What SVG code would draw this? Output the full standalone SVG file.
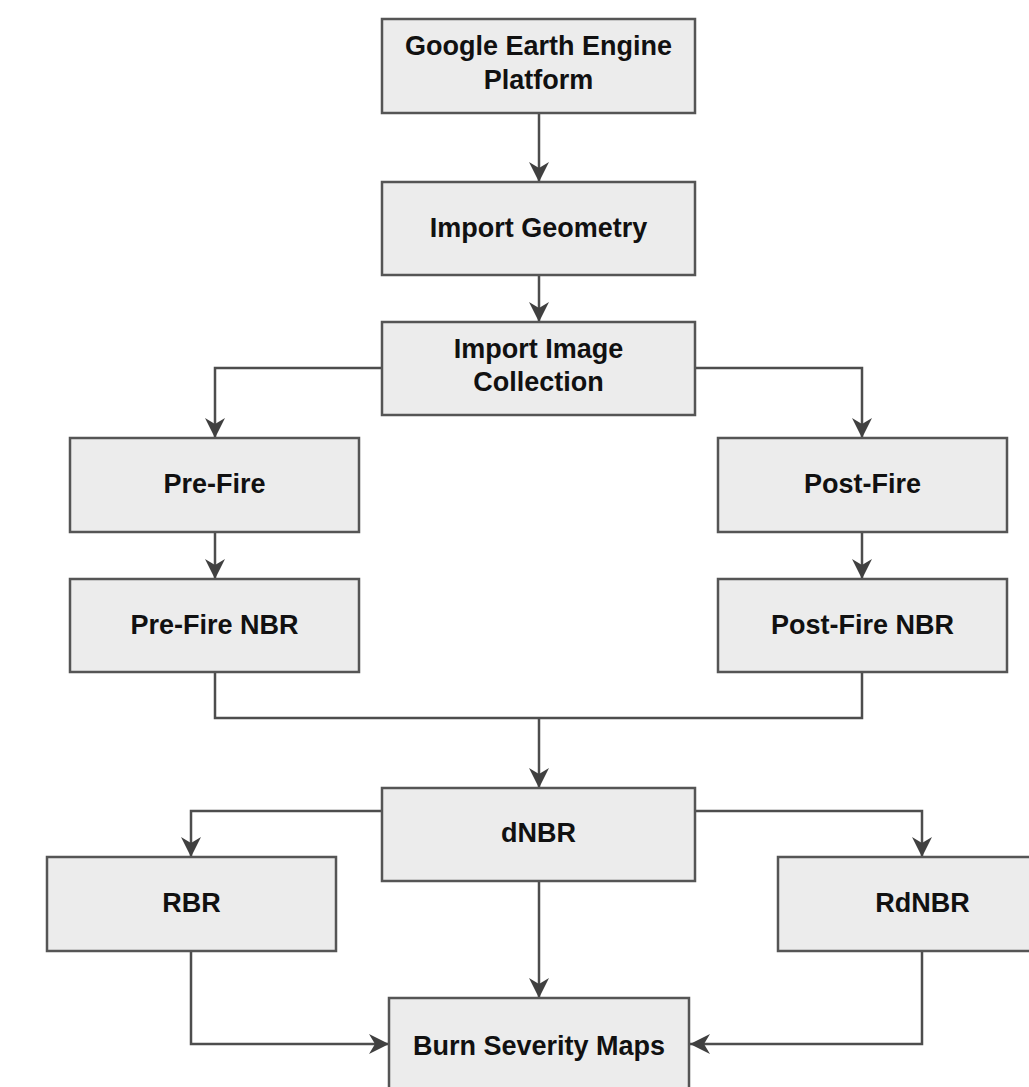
<svg xmlns="http://www.w3.org/2000/svg" width="1029" height="1087" viewBox="0 0 1029 1087">
<style>
.box{fill:#ececec;stroke:#555;stroke-width:2.5}
.t{font-family:"Liberation Sans",Arial,sans-serif;font-weight:bold;font-size:27px;fill:#111;text-anchor:middle}
.c{fill:none;stroke:#4d4d4d;stroke-width:2.5}
.a{marker-end:url(#ah)}
</style>
<defs>
<marker id="ah" markerUnits="userSpaceOnUse" markerWidth="22" markerHeight="22" refX="20" refY="10" orient="auto">
<path d="M0,0 L20,10 L0,20 L6,10 Z" fill="#404040"/>
</marker>
</defs>
<rect width="1029" height="1087" fill="#fff"/>
<g id="connectors">
<path class="c a" d="M539,113 V182"/>
<path class="c a" d="M539,275 V322"/>
<path class="c a" d="M382,368 H215 V438"/>
<path class="c a" d="M695,368 H862 V438"/>
<path class="c a" d="M215,532 V579"/>
<path class="c a" d="M862,532 V579"/>
<path class="c" d="M215,672 V718 H862 V672"/>
<path class="c a" d="M539,718 V788"/>
<path class="c a" d="M382,811 H191 V857"/>
<path class="c a" d="M695,811 H922 V857"/>
<path class="c a" d="M539,881 V998"/>
<path class="c a" d="M191,951 V1044 H389"/>
<path class="c a" d="M922,951 V1044 H690"/>
</g>
<g id="gee"><rect class="box" x="382" y="19" width="313" height="94"/><text class="t" x="538.5" y="55">Google Earth Engine</text><text class="t" x="538.5" y="89">Platform</text></g>
<g id="geometry"><rect class="box" x="382" y="182" width="313" height="93"/><text class="t" x="538.5" y="237">Import Geometry</text></g>
<g id="collection"><rect class="box" x="382" y="322" width="313" height="93"/><text class="t" x="538.5" y="358">Import Image</text><text class="t" x="538.5" y="391">Collection</text></g>
<g id="prefire"><rect class="box" x="70" y="438" width="289" height="94"/><text class="t" x="214.5" y="493">Pre-Fire</text></g>
<g id="postfire"><rect class="box" x="718" y="438" width="289" height="94"/><text class="t" x="862.5" y="493">Post-Fire</text></g>
<g id="prenbr"><rect class="box" x="70" y="579" width="289" height="93"/><text class="t" x="214.5" y="634">Pre-Fire NBR</text></g>
<g id="postnbr"><rect class="box" x="718" y="579" width="289" height="93"/><text class="t" x="862.5" y="634">Post-Fire NBR</text></g>
<g id="dnbr"><rect class="box" x="382" y="788" width="313" height="93"/><text class="t" x="538.5" y="842">dNBR</text></g>
<g id="rbr"><rect class="box" x="47" y="857" width="289" height="94"/><text class="t" x="191.5" y="912">RBR</text></g>
<g id="rdnbr"><rect class="box" x="778" y="857" width="289" height="94"/><text class="t" x="922.5" y="912">RdNBR</text></g>
<g id="burn"><rect class="box" x="389" y="998" width="300" height="94"/><text class="t" x="539" y="1055">Burn Severity Maps</text></g>
</svg>
